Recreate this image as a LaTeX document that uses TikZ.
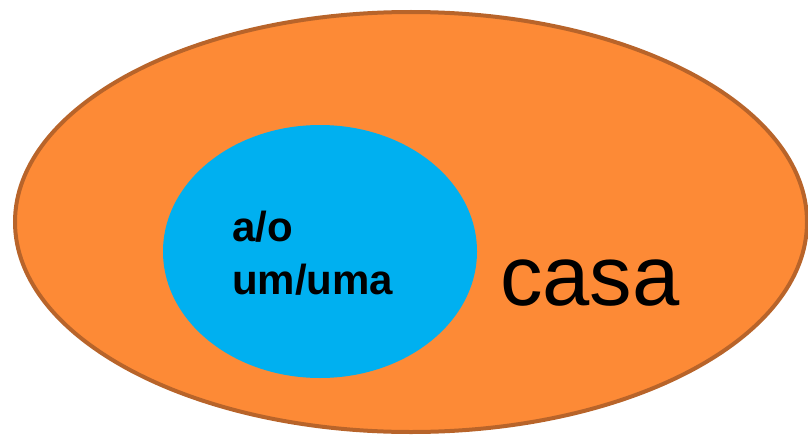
\documentclass[tikz,border=0pt]{standalone}
\usepackage{fontspec}
\setmainfont{Liberation Sans}
\definecolor{orangefill}{HTML}{FD8A36}
\definecolor{orangeedge}{HTML}{B8642A}
\definecolor{bluefill}{HTML}{00B0F0}
\tikzset{
  outerset/.style={fill=orangefill, draw=orangeedge, line width=4pt},
  innerset/.style={fill=bluefill, draw=none},
  boldlabel/.style={anchor=base west, inner sep=0pt, font=\fontsize{42}{50}\selectfont\bfseries},
  biglabel/.style={anchor=base west, inner sep=0pt, font=\fontsize{85}{96}\selectfont}
}
\begin{document}
\begin{tikzpicture}[x=1pt,y=-1pt]
\useasboundingbox (0,0) rectangle (808,436);
\begin{scope}
\clip (0,0) rectangle (808,436);
\draw[outerset] (411,222) ellipse [x radius=396, y radius=210];
\end{scope}
\fill[innerset] (320,251.5) ellipse [x radius=157, y radius=126.5];
\node[boldlabel] (ao) at (232,241) {a/o};
\node[boldlabel] (um) at (232,294) {um/uma};
\node[biglabel] (casa) at (500,305) {casa};
\end{tikzpicture}
\end{document}
